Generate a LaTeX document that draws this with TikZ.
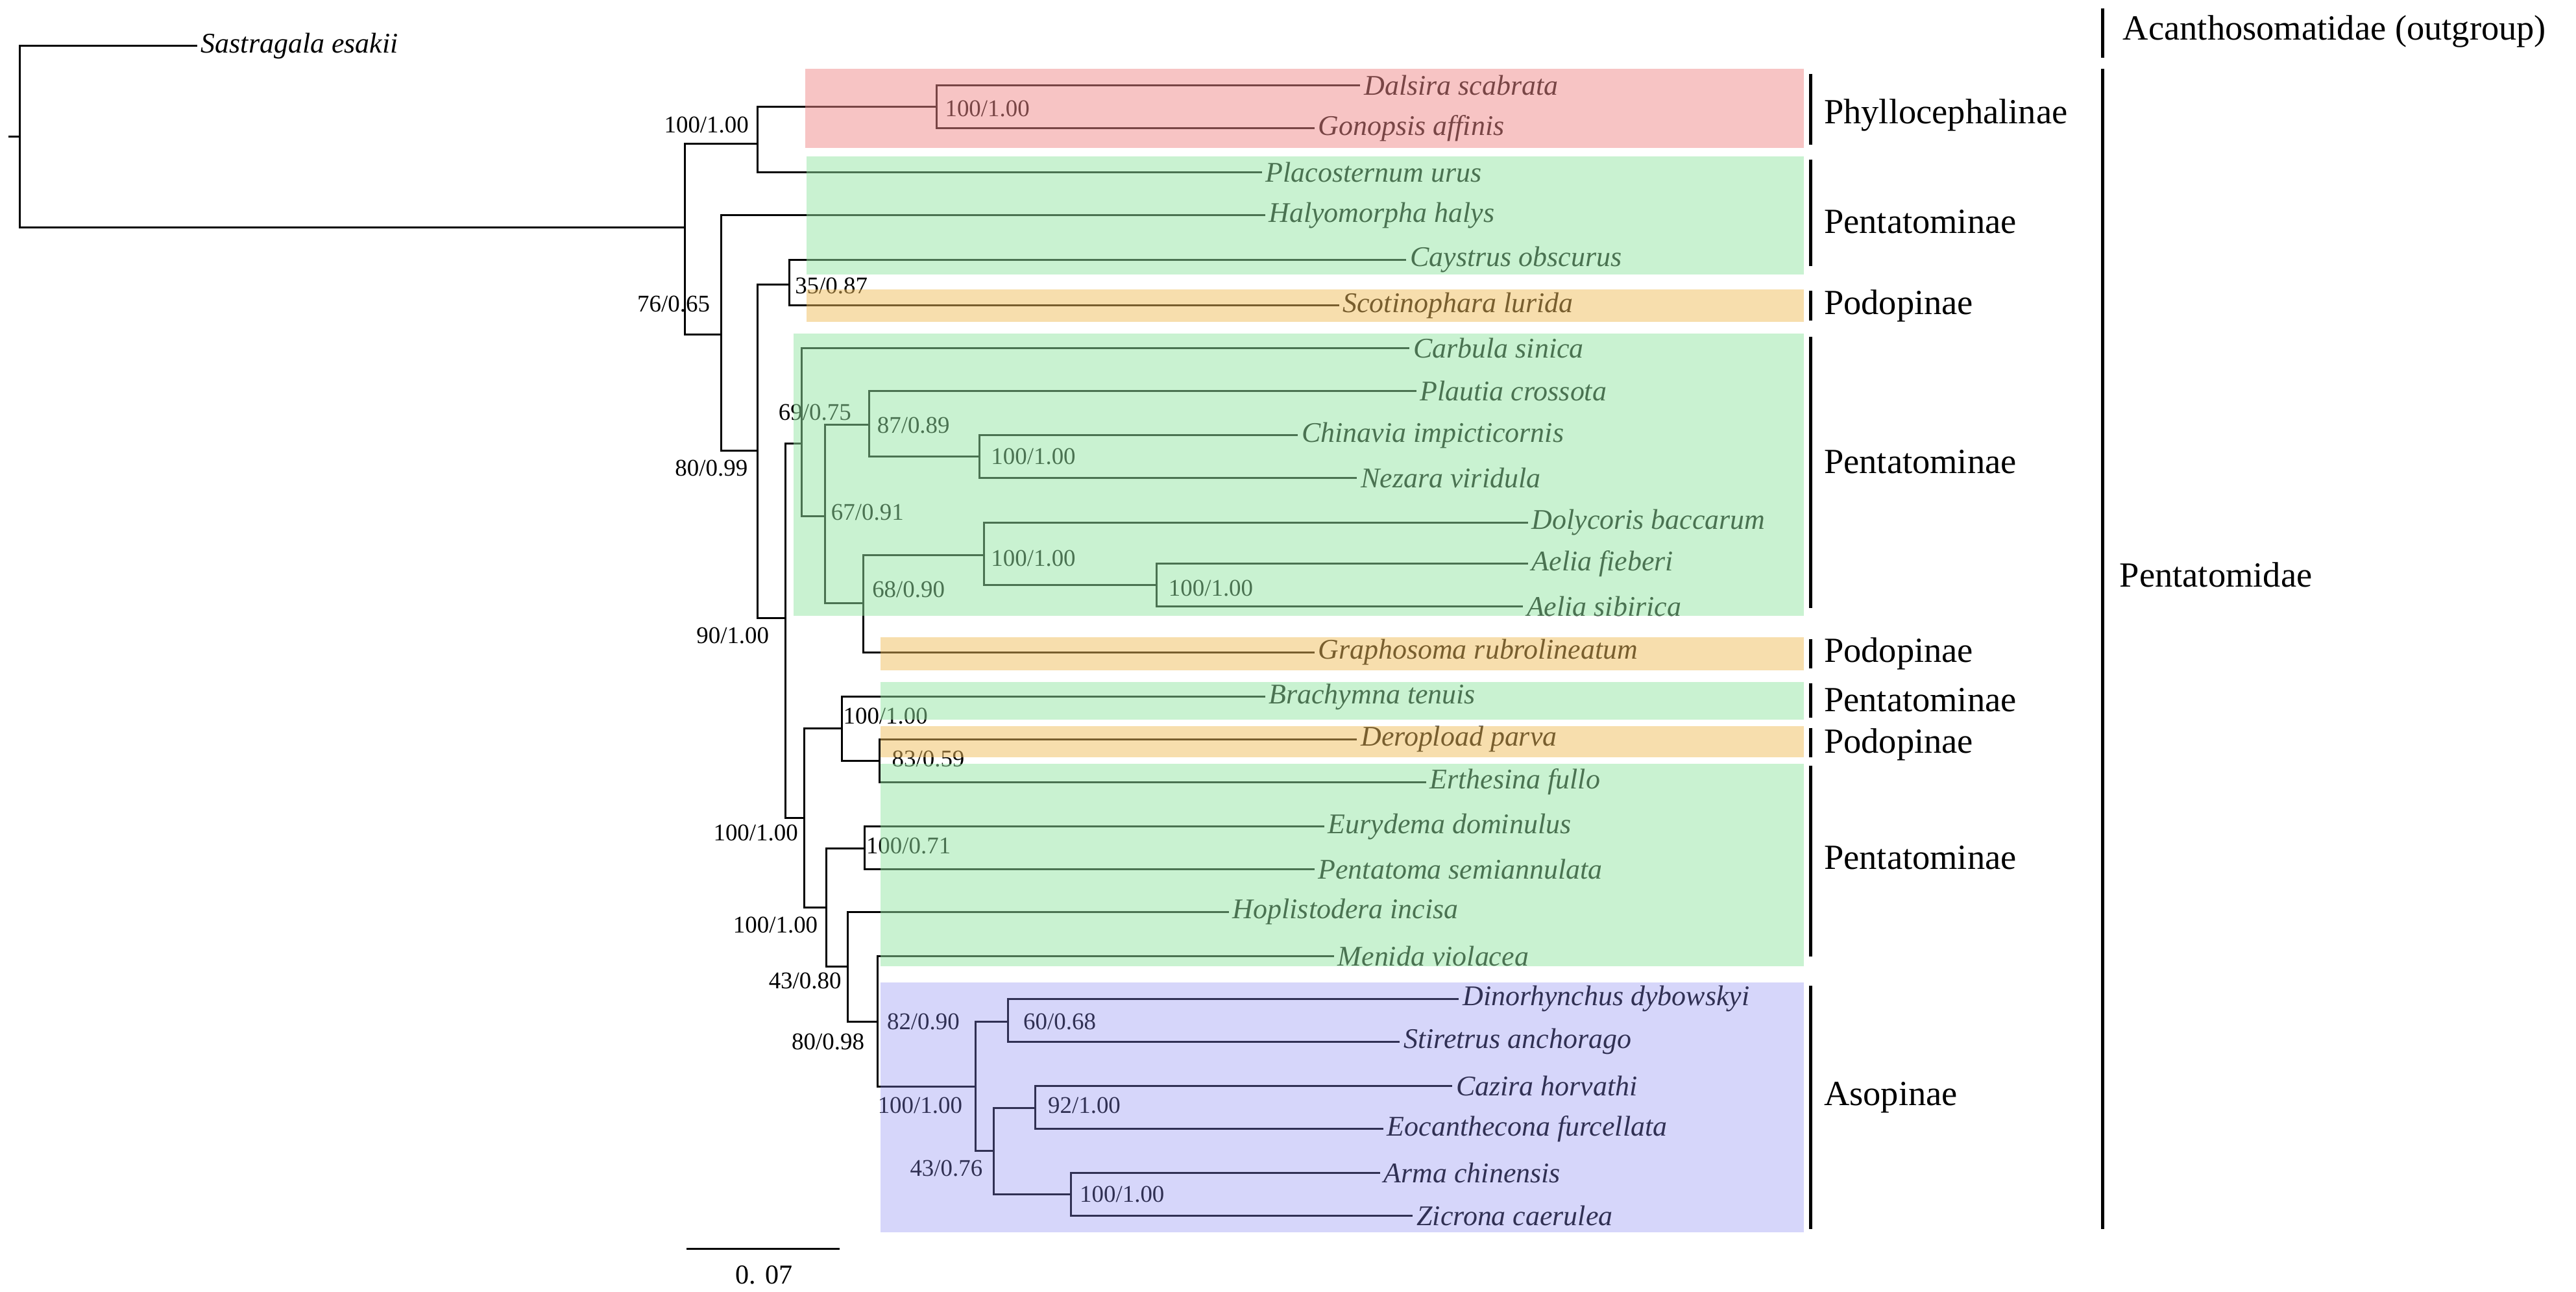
\documentclass[tikz,border=0pt]{standalone}
\usepackage{fontspec}
\setmainfont{Liberation Serif}
\begin{document}
\begin{tikzpicture}[x=0.02532cm,y=-0.02532cm,
  br/.style={line width=0.85pt,black},
  sp/.style={anchor=west,inner sep=1.5pt,font=\fontsize{12.5}{14}\selectfont\itshape},
  bs/.style={inner sep=0pt,font=\fontsize{10.5}{12}\selectfont},
  cl/.style={anchor=west,inner sep=0pt,font=\fontsize{15.5}{18}\selectfont},
  bar/.style={line width=1.4pt},
  box/.style={fill opacity=0.5,draw=none}]
\definecolor{cpink}{rgb}{0.94,0.54,0.54}
\definecolor{cgreen}{rgb}{0.58,0.90,0.64}
\definecolor{corange}{rgb}{0.94,0.74,0.36}
\definecolor{cblue}{rgb}{0.54,0.54,0.94}
\useasboundingbox (0,0) rectangle (1568,786);
% internal nodes
\coordinate (root) at (12,83);
\coordinate (rt) at (5,83);
\coordinate (A) at (417,138.5);
\coordinate (P) at (461,87.5);
\coordinate (Phy) at (570,65);
\coordinate (B) at (439,203.7);
\coordinate (C) at (461,274.4);
\coordinate (D) at (480.6,173);
\coordinate (E) at (478,376.3);
\coordinate (F) at (488,270);
\coordinate (G) at (502,314);
\coordinate (H) at (529,258.5);
\coordinate (I) at (596,278);
\coordinate (J) at (525.5,367.3);
\coordinate (K) at (599,337.8);
\coordinate (L) at (704,356);
\coordinate (M) at (489.6,498);
\coordinate (N) at (512.4,443.4);
\coordinate (O) at (535.3,463);
\coordinate (Q) at (503,552.3);
\coordinate (R) at (526.3,516.4);
\coordinate (S) at (516,588.2);
\coordinate (T) at (534,621.7);
\coordinate (U) at (594,661.2);
\coordinate (V) at (613.5,621.7);
\coordinate (W) at (604.9,700.6);
\coordinate (X) at (630,674.3);
\coordinate (Y) at (652,727);
% tips
\node[sp] (sas) at (120,28) {Sastragala esakii};
\node[sp] (dal) at (828,52) {Dalsira scabrata};
\node[sp] (gon) at (800,78) {Gonopsis affinis};
\node[sp] (pla) at (768,105) {Placosternum urus};
\node[sp] (hal) at (770,131) {Halyomorpha halys};
\node[sp] (cay) at (856,158) {Caystrus obscurus};
\node[sp] (sco) at (815,186) {Scotinophara lurida};
\node[sp] (car) at (858,212) {Carbula sinica};
\node[sp] (plc) at (862,238) {Plautia crossota};
\node[sp] (chi) at (790,265) {Chinavia impicticornis};
\node[sp] (nez) at (826,291) {Nezara viridula};
\node[sp] (dol) at (930,318) {Dolycoris baccarum};
\node[sp] (aef) at (930,343) {Aelia fieberi};
\node[sp] (aes) at (927,369) {Aelia sibirica};
\node[sp] (gra) at (800,397) {Graphosoma rubrolineatum};
\node[sp] (bra) at (770,424) {Brachymna tenuis};
\node[sp] (der) at (826,450) {Deropload parva};
\node[sp] (ert) at (868,476) {Erthesina fullo};
\node[sp] (eur) at (806,503) {Eurydema dominulus};
\node[sp] (pen) at (800,529) {Pentatoma semiannulata};
\node[sp] (hop) at (748,555) {Hoplistodera incisa};
\node[sp] (men) at (812,582) {Menida violacea};
\node[sp] (din) at (888,608) {Dinorhynchus dybowskyi};
\node[sp] (sti) at (852,634) {Stiretrus anchorago};
\node[sp] (caz) at (884,661) {Cazira horvathi};
\node[sp] (eoc) at (842,687) {Eocanthecona furcellata};
\node[sp] (arm) at (840,714) {Arma chinensis};
\node[sp] (zic) at (860,740) {Zicrona caerulea};
% branches
\draw[br] (rt) -- (root);
\draw[br] (root) |- (sas.west);
\draw[br] (root) |- (A);
\draw[br] (A) |- (P); \draw[br] (A) |- (B);
\draw[br] (P) |- (Phy); \draw[br] (P) |- (pla.west);
\draw[br] (Phy) |- (dal.west); \draw[br] (Phy) |- (gon.west);
\draw[br] (B) |- (hal.west); \draw[br] (B) |- (C);
\draw[br] (C) |- (D); \draw[br] (C) |- (E);
\draw[br] (D) |- (cay.west); \draw[br] (D) |- (sco.west);
\draw[br] (E) |- (F); \draw[br] (E) |- (M);
\draw[br] (F) |- (car.west); \draw[br] (F) |- (G);
\draw[br] (G) |- (H); \draw[br] (G) |- (J);
\draw[br] (H) |- (plc.west); \draw[br] (H) |- (I);
\draw[br] (I) |- (chi.west); \draw[br] (I) |- (nez.west);
\draw[br] (J) |- (K); \draw[br] (J) |- (gra.west);
\draw[br] (K) |- (dol.west); \draw[br] (K) |- (L);
\draw[br] (L) |- (aef.west); \draw[br] (L) |- (aes.west);
\draw[br] (M) |- (N); \draw[br] (M) |- (Q);
\draw[br] (N) |- (bra.west); \draw[br] (N) |- (O);
\draw[br] (O) |- (der.west); \draw[br] (O) |- (ert.west);
\draw[br] (Q) |- (R); \draw[br] (Q) |- (S);
\draw[br] (R) |- (eur.west); \draw[br] (R) |- (pen.west);
\draw[br] (S) |- (hop.west); \draw[br] (S) |- (T);
\draw[br] (T) |- (men.west); \draw[br] (T) |- (U);
\draw[br] (U) |- (V); \draw[br] (U) |- (W);
\draw[br] (V) |- (din.west); \draw[br] (V) |- (sti.west);
\draw[br] (W) |- (X); \draw[br] (W) |- (Y);
\draw[br] (X) |- (caz.west); \draw[br] (X) |- (eoc.west);
\draw[br] (Y) |- (arm.west); \draw[br] (Y) |- (zic.west);
% support values
\node[bs] (bA) at (430,76) {100/1.00};
\node[bs] (bPhy) at (601,66) {100/1.00};
\node[bs] (bB) at (410,185) {76/0.65};
\node[bs] (bC) at (433,285) {80/0.99};
\node[bs] (bD) at (506,174) {35/0.87};
\node[bs] (bF) at (496,251) {69/0.75};
\node[bs] (bH) at (556,259) {87/0.89};
\node[bs] (bI) at (629,278) {100/1.00};
\node[bs] (bG) at (528,312) {67/0.91};
\node[bs] (bK) at (629,340) {100/1.00};
\node[bs] (bJ) at (553,359) {68/0.90};
\node[bs] (bL) at (737,358) {100/1.00};
\node[bs] (bE) at (446,387) {90/1.00};
\node[bs] (bN) at (539,436) {100/1.00};
\node[bs] (bO) at (565,462) {83/0.59};
\node[bs] (bM) at (460,507) {100/1.00};
\node[bs] (bR) at (553,515) {100/0.71};
\node[bs] (bQ) at (472,563) {100/1.00};
\node[bs] (bS) at (490,597) {43/0.80};
\node[bs] (bT0) at (504,634) {80/0.98};
\node[bs] (bU0) at (562,622) {82/0.90};
\node[bs] (bT) at (560,673) {100/1.00};
\node[bs] (bW) at (576,711) {43/0.76};
\node[bs] (bV) at (645,622) {60/0.68};
\node[bs] (bX) at (660,673) {92/1.00};
\node[bs] (bY) at (683,727) {100/1.00};
% coloured boxes
\fill[box,cpink] (490,42) rectangle (1098,90);
\fill[box,cgreen] (491,95) rectangle (1098,167);
\fill[box,corange] (491,176) rectangle (1098,196);
\fill[box,cgreen] (483,203) rectangle (1098,375);
\fill[box,corange] (536,388) rectangle (1098,408);
\fill[box,cgreen] (536,415) rectangle (1098,438);
\fill[box,corange] (536,442) rectangle (1098,461);
\fill[box,cgreen] (536,465) rectangle (1098,588);
\fill[cblue,fill opacity=0.35] (536,598) rectangle (1098,750);
% clade bars and labels
\draw[bar] (1102,45) -- (1102,88);   \node[cl] (c1) at (1110,70) {Phyllocephalinae};
\draw[bar] (1102,97) -- (1102,162);  \node[cl] (c2) at (1110,135) {Pentatominae};
\draw[bar] (1102,177) -- (1102,195); \node[cl] (c3) at (1110,186) {Podopinae};
\draw[bar] (1102,205) -- (1102,370); \node[cl] (c4) at (1110,281) {Pentatominae};
\draw[bar] (1102,389) -- (1102,407); \node[cl] (c5) at (1110,398) {Podopinae};
\draw[bar] (1102,416) -- (1102,437); \node[cl] (c6) at (1110,426) {Pentatominae};
\draw[bar] (1102,443) -- (1102,461); \node[cl] (c7) at (1110,453) {Podopinae};
\draw[bar] (1102,466) -- (1102,582); \node[cl] (c8) at (1110,522) {Pentatominae};
\draw[bar] (1102,600) -- (1102,748); \node[cl] (c9) at (1110,668) {Asopinae};
\draw[bar] (1280,5) -- (1280,35);    \node[cl] (c10) at (1292,19) {Acanthosomatidae (outgroup)};
\draw[bar] (1280,42) -- (1280,748);  \node[cl] (c11) at (1290,350) {Pentatomidae};
% scale bar
\coordinate (s1) at (418,760); \coordinate (s2) at (511,760);
\draw[line width=0.8pt] (s1) -- (s2);
\node[bs,font=\fontsize{12}{14}\selectfont] (sl) at (465,776) {0. 07};
\end{tikzpicture}
\end{document}
